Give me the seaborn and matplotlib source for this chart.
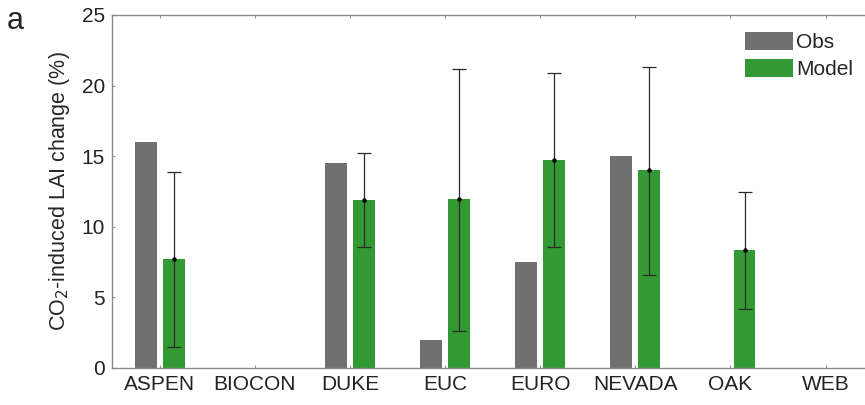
import numpy as np
import pandas as pd
import matplotlib
matplotlib.use("Agg")
import matplotlib.pyplot as plt
from matplotlib.patches import Patch
import seaborn as sns

sites = ["ASPEN", "BIOCON", "DUKE", "EUC", "EURO", "NEVADA", "OAK", "WEB"]
obs = [16.0, np.nan, 14.5, 2.0, 7.5, 15.0, np.nan, np.nan]
model = [7.7, np.nan, 11.9, 12.0, 14.75, 14.0, 8.35, np.nan]
model_low = [1.5, np.nan, 8.55, 2.65, 8.55, 6.6, 4.2, np.nan]
model_high = [13.85, np.nan, 15.25, 21.2, 20.9, 21.35, 12.45, np.nan]
series = ["Obs", "Model"]
colors = ["#707070", "#339933"]
yticks = [0, 5, 10, 15, 20, 25]

sns.set_theme(style="white")
plt.rcParams["font.family"] = ["Liberation Sans", "DejaVu Sans"]

df = pd.DataFrame({
    "site": sites * 2,
    "series": [series[0]] * len(sites) + [series[1]] * len(sites),
    "value": obs + model,
})

fig = plt.figure(figsize=(8.65, 4.05), dpi=100)
ax = fig.add_axes([0.1295, 0.0914, 0.88, 0.8716])

width = 0.59
sns.barplot(data=df, x="site", y="value", hue="series", order=sites,
            hue_order=series, palette=colors, width=width, gap=0.22,
            errorbar=None, saturation=1, linewidth=0, ax=ax, legend=False)

# whiskers for the model range, on the right-hand bar of each site
offset = width / 4
xs = np.arange(len(sites)) + offset
m = np.array(model)
lo = m - np.array(model_low)
hi = np.array(model_high) - m
ax.errorbar(xs, m, yerr=[lo, hi], fmt="o", ms=2.2, color="black",
            ecolor="#2a2a2a", elinewidth=0.9, capsize=5, capthick=0.9)

ax.set_xlim(-0.5, len(sites) - 0.5)
ax.set_ylim(0, 25)
ax.set_yticks(yticks)
ax.set_xlabel("")
ax.set_ylabel("CO$_2$-induced LAI change (%)", fontsize=15.5, labelpad=7)
ax.tick_params(axis="both", labelsize=15, colors="#222222", direction="in",
               length=2.5, width=0.8, top=True, bottom=True, left=True, pad=5)
ax.tick_params(axis="both", color="#909090")
for side in ["top", "bottom", "left", "right"]:
    ax.spines[side].set_color("#8a8a8a")
    ax.spines[side].set_linewidth(1.0)

handles = [Patch(facecolor=c, edgecolor="none", label=s) for s, c in zip(series, colors)]
fig.legend(handles=handles, loc="upper left", bbox_to_anchor=(0.849, 0.946),
           frameon=False, fontsize=15, borderpad=0, handlelength=2.3,
           handleheight=0.95, labelspacing=0.32, handletextpad=0.15)

fig.text(0.008, 0.985, "a", fontsize=22, va="top", ha="left")

fig.savefig("out.png", dpi=100)
